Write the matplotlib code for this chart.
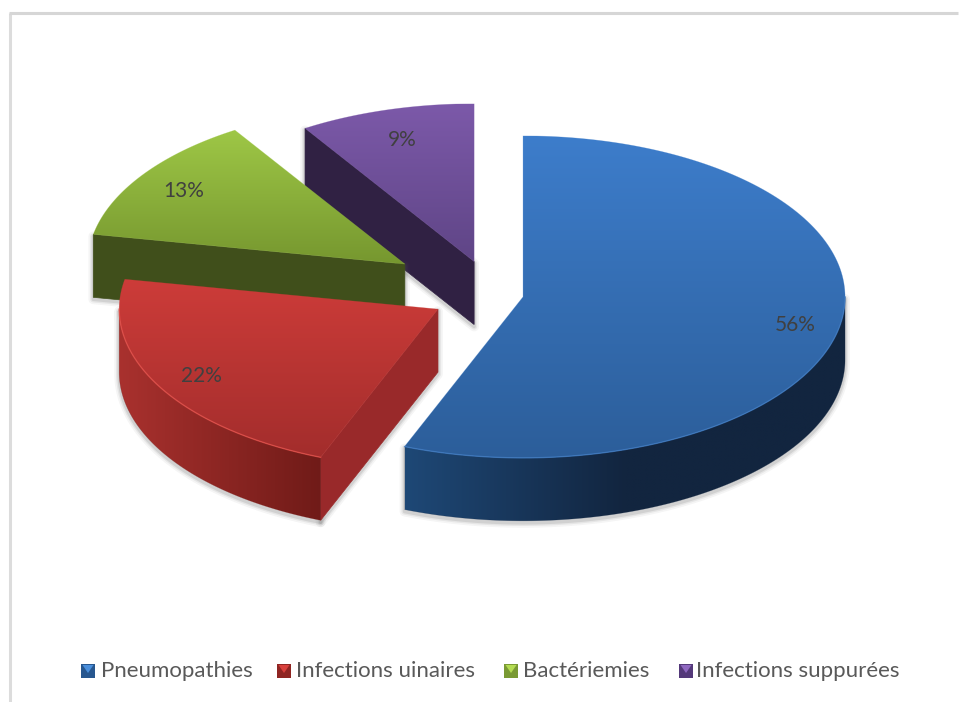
import numpy as np
import matplotlib
matplotlib.use("Agg")
import matplotlib.pyplot as plt
from matplotlib.colors import LinearSegmentedColormap
from matplotlib.patches import Polygon

# Chart data
categories = ["Pneumopathies", "Infections uinaires", "Bactériemies", "Infections suppurées"]
values = [56, 22, 13, 9]
explode = [0.095, 0.195, 0.331, 0.21]

# Slice colours
top_light = ["#3d7dcb", "#cd3c39", "#9ec746", "#7c59a9"]
top_dark = ["#2c5e9a", "#a32d2c", "#76972f", "#5f4586"]
wall_shades = [["#1e4876", "#12253f", "#12253f"], ["#a9312e", "#701b18"],
               ["#404f1b", "#404f1b"], ["#302143", "#302143"]]
cut_colour = ["#1e4876", "#99292a", "#404f1b", "#302143"]
rim_colour = ["#3f7cc4", "#e8524c", "#a8cf55", "#8763b3"]
swatch_colour = ["#27578f", "#8f2522", "#7a9a34", "#54397a"]
swatch_light = ["#4a8fdc", "#d8403c", "#b4dc52", "#8f68c0"]

# Pie geometry in figure pixels; rear slices are drawn slightly smaller
W, H = 959, 702
CX, CY = 493, 294
RX, RY = 322, 161
DEPTH = 63
perspective = [1.0, 0.99, 0.985, 0.98]
label_radius = [0.86, 0.84, 0.83, 0.80]
LABEL_DROP = 2

FONT = "Lato"
TEXT = "#404040"

fig = plt.figure(figsize=(W / 100, H / 100), dpi=100, facecolor="white")
ax = fig.add_axes([0, 0, 1, 1])
ax.set_xlim(0, W)
ax.set_ylim(H, 0)
ax.axis("off")

# Chart frame: only the top and left borders are in view
ax.plot([10, 10], [13, H], color="#dcdcdc", lw=2.2, solid_capstyle="butt", zorder=1)
ax.plot([9, W - 1], [13, 13], color="#d6d6d6", lw=2.2, solid_capstyle="butt", zorder=1)


def arc(ox, oy, k, a, b, dy=0, n=160):
    t = np.radians(np.linspace(a, b, n))
    return np.column_stack([ox + k * RX * np.sin(t), oy - k * RY * np.cos(t) + dy])


def gradient_fill(poly, colours, horizontal, zorder):
    cmap = LinearSegmentedColormap.from_list("g", colours)
    x0, y0 = poly.min(axis=0)
    x1, y1 = poly.max(axis=0)
    g = np.linspace(0, 1, 256)
    g = g[None, :] if horizontal else g[:, None]
    im = ax.imshow(g, cmap=cmap, extent=(x0, x1, y1, y0), aspect="auto",
                   interpolation="bilinear", zorder=zorder)
    clip = Polygon(poly, closed=True, transform=ax.transData)
    im.set_clip_path(clip)
    ax.add_patch(Polygon(poly, closed=True, fc="none", ec=colours[-1] if horizontal else colours[0],
                         lw=0.4, alpha=0.4, zorder=zorder))


def soft_shadow(poly, zorder):
    for lw, alpha in [(7, 0.06), (4.5, 0.09), (2.5, 0.14)]:
        ax.add_patch(Polygon(poly + np.array([0, 2]), closed=True, fc="none",
                             ec="#555555", lw=lw, alpha=alpha, joinstyle="round",
                             zorder=zorder))


shares = np.array(values, dtype=float) / sum(values)
edges = np.concatenate([[0], np.cumsum(shares) * 360])

slices = []
for i in range(len(values)):
    a, b = edges[i], edges[i + 1]
    mid = np.radians((a + b) / 2)
    ox = CX + explode[i] * RX * np.sin(mid)
    oy = CY - explode[i] * RY * np.cos(mid)
    slices.append((i, a, b, mid, ox, oy))

# Back slices first so the front ones overlap them
z = 2
for i, a, b, mid, ox, oy in reversed(slices):
    k = perspective[i]
    top = np.vstack([[ox, oy], arc(ox, oy, k, a, b)])
    lo, hi = max(a, 90), min(b, 270)
    outer = None
    if lo < hi:
        upper = arc(ox, oy, k, lo, hi)
        outer = np.vstack([upper, upper[::-1] + [0, DEPTH]])
    cuts = []
    if 180 < a < 360:
        p = arc(ox, oy, k, a, a, n=1)[0]
        cuts.append(np.array([[ox, oy], p, p + [0, DEPTH], [ox, oy + DEPTH]]))
    if 0 < b < 180:
        p = arc(ox, oy, k, b, b, n=1)[0]
        cuts.append(np.array([[ox, oy], p, p + [0, DEPTH], [ox, oy + DEPTH]]))

    # Faint drop shadow around the solid
    for poly in cuts + ([outer] if outer is not None else []):
        soft_shadow(poly, z)
    z += 1

    for poly in cuts:
        ax.add_patch(Polygon(poly, closed=True, fc=cut_colour[i], ec=cut_colour[i],
                             lw=0.5, zorder=z))
    z += 1
    if outer is not None:
        gradient_fill(outer, wall_shades[i], True, z)
    z += 1
    gradient_fill(top, [top_light[i], top_dark[i]], False, z)
    z += 1
    if outer is not None:
        rim = arc(ox, oy, k, lo, hi)
        ax.plot(rim[:, 0], rim[:, 1], color=rim_colour[i], lw=1.0, alpha=0.7, zorder=z)
    z += 1

# Percentage labels sit on the top faces
for i, a, b, mid, ox, oy in slices:
    lx = ox + label_radius[i] * RX * np.sin(mid)
    ly = oy - label_radius[i] * RY * np.cos(mid) + LABEL_DROP
    ax.text(lx, ly, f"{values[i]}%", ha="center", va="center", fontsize=15,
            family=FONT, color=TEXT, zorder=z + 1)

# Legend row with bevelled swatches
swatch_x = [81, 277, 504, 679]
text_x = [101, 296, 523, 696]
legend_y = 671
for i, name in enumerate(categories):
    sx = swatch_x[i]
    box = np.array([[sx, legend_y - 7], [sx + 14, legend_y - 7],
                    [sx + 14, legend_y + 7], [sx, legend_y + 7]], dtype=float)
    ax.add_patch(Polygon(box, closed=True, fc=swatch_colour[i], ec="none", zorder=z + 1))
    inner = np.array([[sx + 1.5, legend_y - 6], [sx + 12.5, legend_y - 6],
                      [sx + 7, legend_y + 2]], dtype=float)
    ax.add_patch(Polygon(inner, closed=True, fc=swatch_light[i], ec="none", zorder=z + 2))
    ax.text(text_x[i], legend_y, name, ha="left", va="center", fontsize=16,
            family=FONT, color="#595959", zorder=z + 1)

fig.savefig("out.png", dpi=100, facecolor="white")
